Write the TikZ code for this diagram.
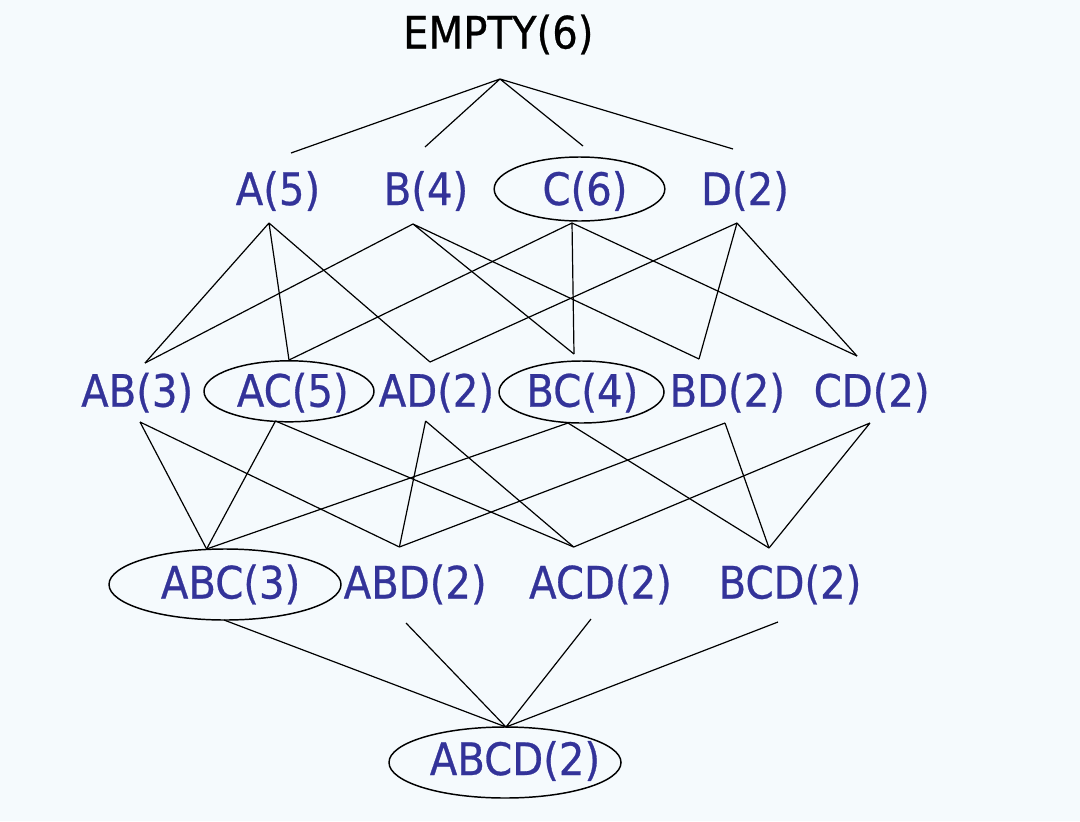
\documentclass[tikz,border=0pt]{standalone}
\usepackage{fontspec}
\usetikzlibrary{shapes.geometric}
\newfontfamily\lblfont[FakeStretch=0.9,FakeBold=0.6]{DejaVu Sans}
\definecolor{bgcol}{HTML}{F5FAFD}
\definecolor{txtcol}{HTML}{333399}
\begin{document}
\begin{tikzpicture}[x=0.75pt,y=-0.75pt,
  lbl/.style={anchor=base,inner sep=0pt,text=txtcol,font=\lblfont\fontsize{33.5}{36}\selectfont},
  ring/.style={draw,ellipse,inner sep=0pt,line width=1.1pt},
  edge/.style={line width=0.9pt}]
\fill[bgcol] (0,0) rectangle (1080,821);
\useasboundingbox (0,0) rectangle (1080,821);
% ellipses
\node[ring,minimum width=128pt,minimum height=48pt] (Ce) at (579.5,189) {};
\node[ring,minimum width=127.5pt,minimum height=45.75pt] (ACe) at (289,391.3) {};
\node[ring,minimum width=123.75pt,minimum height=46.5pt] (BCe) at (581.5,392) {};
\node[ring,minimum width=174pt,minimum height=53.25pt] (ABCe) at (225,584.5) {};
\node[ring,minimum width=174pt,minimum height=53.25pt] (ABCDe) at (505,762.5) {};
% labels
\node[lbl,text=black] (E) at (498.3,48.5) {EMPTY(6)};
\node[lbl] (A) at (278,205) {A(5)};
\node[lbl] (B) at (426,205) {B(4)};
\node[lbl] (C) at (585,205) {C(6)};
\node[lbl] (D) at (745,205) {D(2)};
\node[lbl] (AB) at (137.2,406.7) {AB(3)};
\node[lbl] (AC) at (292.8,406.7) {AC(5)};
\node[lbl] (AD) at (436.5,406.7) {AD(2)};
\node[lbl] (BC) at (582.3,406.7) {BC(4)};
\node[lbl] (BD) at (727.3,406.7) {BD(2)};
\node[lbl] (CD) at (871.7,406.7) {CD(2)};
\node[lbl] (ABC) at (230.6,598.5) {ABC(3)};
\node[lbl] (ABD) at (415.2,598.5) {ABD(2)};
\node[lbl] (ACD) at (600.5,598.5) {ACD(2)};
\node[lbl] (BCD) at (790,598.5) {BCD(2)};
\node[lbl] (ABCD) at (515,775) {ABCD(2)};
% connector end points
\coordinate (E-b) at (500,79);
\coordinate (A-t) at (291,153);
\coordinate (B-t) at (425,147);
\coordinate (C-t) at (583,146);
\coordinate (D-t) at (733,149);
\coordinate (A-b) at (269,223);
\coordinate (B-b) at (413,224);
\coordinate (C-b) at (572,223);
\coordinate (D-b) at (737,223);
\coordinate (AB-t) at (145,363);
\coordinate (AC-t) at (289,360);
\coordinate (AD-t) at (430,362);
\coordinate (BC-t) at (574,354);
\coordinate (BD-t) at (699,359);
\coordinate (CD-t) at (857,356);
\coordinate (AB-b) at (140,422);
\coordinate (AC-b) at (275.5,421);
\coordinate (AD-b) at (425.6,421);
\coordinate (BC-b) at (568,423);
\coordinate (BD-b) at (725,423);
\coordinate (CD-b) at (870,423);
\coordinate (ABC-t) at (206.6,549);
\coordinate (ABD-t) at (399.4,547);
\coordinate (ACD-t) at (573.7,547);
\coordinate (BCD-t) at (769,548);
\coordinate (ABC-b) at (224,620);
\coordinate (ABD-b) at (406,623);
\coordinate (ACD-b) at (591,619);
\coordinate (BCD-b) at (778,622);
\coordinate (ABCD-t) at (506,727);
% connectors
\draw[edge] (E-b) -- (A-t) (E-b) -- (B-t) (E-b) -- (C-t) (E-b) -- (D-t);
\draw[edge] (A-b) -- (AB-t) (A-b) -- (AC-t) (A-b) -- (AD-t);
\draw[edge] (B-b) -- (AB-t) (B-b) -- (BC-t) (B-b) -- (BD-t);
\draw[edge] (C-b) -- (AC-t) (C-b) -- (BC-t) (C-b) -- (CD-t);
\draw[edge] (D-b) -- (AD-t) (D-b) -- (BD-t) (D-b) -- (CD-t);
\draw[edge] (AB-b) -- (ABC-t) (AB-b) -- (ABD-t);
\draw[edge] (AC-b) -- (ABC-t) (AC-b) -- (ACD-t);
\draw[edge] (AD-b) -- (ABD-t) (AD-b) -- (ACD-t);
\draw[edge] (BC-b) -- (ABC-t) (BC-b) -- (BCD-t);
\draw[edge] (BD-b) -- (ABD-t) (BD-b) -- (BCD-t);
\draw[edge] (CD-b) -- (ACD-t) (CD-b) -- (BCD-t);
\draw[edge] (ABC-b) -- (ABCD-t) (ABD-b) -- (ABCD-t) (ACD-b) -- (ABCD-t) (BCD-b) -- (ABCD-t);
\end{tikzpicture}
\end{document}
